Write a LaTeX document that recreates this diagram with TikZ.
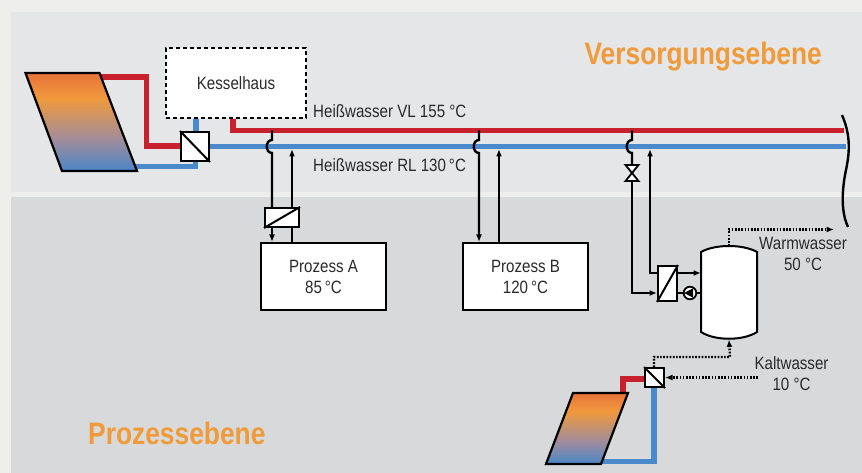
\documentclass[tikz,border=0pt]{standalone}
\usepackage{fontspec}
\setmainfont{Liberation Sans}[FakeStretch=0.85]
\usetikzlibrary{arrows.meta}
\definecolor{outerbg}{HTML}{EEEEEC}
\definecolor{topbg}{HTML}{E5E6E8}
\definecolor{botbg}{HTML}{D8D9DB}
\definecolor{pipered}{HTML}{C8202C}
\definecolor{pipeblue}{HTML}{4A89CC}
\definecolor{titleor}{HTML}{F09A3A}
\definecolor{txt}{HTML}{2A2A2A}
\definecolor{cdeep}{HTML}{E8733A}
\definecolor{corange}{HTML}{F0993C}
\definecolor{cmauve}{HTML}{A08C9C}
\definecolor{cblue}{HTML}{4A86C8}
\pgfdeclareverticalshading{collshade}{100bp}{color(0bp)=(cblue); color(25bp)=(cblue); color(41bp)=(cmauve); color(62bp)=(corange); color(75bp)=(cdeep); color(100bp)=(cdeep)}
\tikzset{
  redpipe/.style={draw=pipered, line width=5.2pt},
  bluepipe/.style={draw=pipeblue, line width=5.2pt},
  flow/.style={draw=black, line width=2.4pt},
  flowarr/.style={flow, -{Latex[length=7.5pt,width=6pt]}},
  dotflow/.style={draw=black, line width=2.4pt, dash pattern=on 1.7pt off 1.5pt},
  dotarr/.style={dotflow, -{Latex[length=7.5pt,width=6pt]}},
  box/.style={draw=black, fill=white, line width=2pt, inner sep=0pt},
  lbl/.style={text=txt, font=\fontsize{17.8}{21}\selectfont, inner sep=0pt, align=center},
  title/.style={text=titleor, font=\bfseries\fontsize{31}{36}\selectfont, inner sep=0pt},
  collector/.style={draw=black, line width=2.2pt, shading=collshade},
}
\begin{document}
\begin{tikzpicture}[x=1pt,y=-1pt]
\useasboundingbox (0,0) rectangle (862,473);
% backgrounds
\fill[outerbg] (0,0) rectangle (862,473);
\fill[topbg] (11,12) rectangle (862,192);
\fill[botbg] (11,197) rectangle (862,473);

% titles
\node[title, anchor=base east] (vers) at (822,65) {Versorgungsebene};
\node[title, anchor=base west] (proz) at (88,444) {Prozessebene};

% nodes
\node[box, dashed, dash pattern=on 4pt off 3pt, minimum width=140pt, minimum height=70pt, lbl, draw=black] (kessel) at (236,83) {Kesselhaus};
\node[box, minimum width=28pt, minimum height=29pt] (hx1) at (195,146.5) {};
\node[box, minimum width=125pt, minimum height=67pt, lbl] (pa) at (323.5,276.5) {Prozess A\\85\,°C};
\node[box, minimum width=125pt, minimum height=67pt, lbl] (pb) at (525.5,276.5) {Prozess B\\120\,°C};
\node[box, minimum width=19pt, minimum height=19pt] (hx2) at (654.5,377.5) {};

% collector 1 and pipes
\coordinate (c1tr) at (100,77);
\coordinate (c1br) at (135,166.5);
\draw[redpipe] (c1tr) -- (146.5,77) -- (146.5,146) -- (hx1.west |- 0,146);
\draw[bluepipe] (c1br) -- (195.5,166.5) -- (hx1.south -| 195.5,0);
\draw[bluepipe] (kessel.south -| 196,0) -- (hx1.north -| 196,0);
\shade[collector] (25.5,73) -- (99.5,73) -- (137,171) -- (62,171) -- cycle;

% main lines
\coordinate (redend) at (844,130.5);
\coordinate (blueend) at (846,146.5);
\draw[redpipe] (kessel.south -| 233,0) -- (233,130.5) -- (redend);
\draw[bluepipe] (hx1.east) -- (blueend);
\draw[line width=2.4pt] (842,115) .. controls (853,140) and (848,160) .. (845,175) .. controls (842,192) and (841,212) .. (848,227);

% labels on main lines
\node[lbl, anchor=base west] (vl) at (313,117.5) {Heißwasser VL 155 °C};
\node[lbl, anchor=base west] (rl) at (313,172) {Heißwasser RL 130\,°C};

% branch A
\node[box, minimum width=34pt, minimum height=19pt] (hxa) at (282,217.5) {};
\draw[flow] (272,130.5) -- (272,140) .. controls (265,140) and (265,153) .. (272,153) -- (hxa.north -| 272,0);
\draw[line width=2pt] (hxa.south west) -- (hxa.north east);
\draw[flowarr] (hxa.south -| 272,0) -- (pa.north -| 272,0);
\draw[flow] (pa.north -| 292,0) -- (hxa.south -| 292,0);
\draw[flowarr] (hxa.north -| 292,0) -- (292,149);

% branch B
\draw[flowarr] (479,130.5) -- (479,140) .. controls (472,140) and (472,153) .. (479,153) -- (pb.north -| 479,0);
\draw[flowarr] (pb.north -| 499,0) -- (499,149);

% branch C
\node[box, minimum width=19pt, minimum height=35pt] (hxc) at (667.5,283.5) {};
\draw[line width=2pt] (hxc.south west) -- (hxc.north east);
\coordinate (vtop) at (632,165);
\coordinate (vbot) at (632,181);
\draw[flow] (632,130.5) -- (632,140) .. controls (625,140) and (625,153) .. (632,153) -- (vtop);
\draw[flowarr] (vbot) -- (632,293) -- (hxc.west |- 0,293);
\draw[flow, fill=white, line width=1.8pt, line join=miter] (625.5,165) -- (638.5,165) -- (632,173) -- cycle;
\draw[flow, fill=white, line width=1.8pt, line join=miter] (632,173) -- (625.5,181) -- (638.5,181) -- cycle;
\draw[flowarr] (hxc.west |- 0,273) -- (650,273) -- (650,149);

% tank
\draw[line width=2pt, fill=white] (701,252) .. controls (715,244) and (743,244) .. (757,252) -- (757,332) .. controls (743,341) and (715,341) .. (701,332) -- cycle;
\coordinate (tankL1) at (701,273);
\coordinate (tankL2) at (701,293);
\coordinate (tanktop) at (729,246);
\coordinate (tankbot) at (729,339.5);
\draw[flowarr] (hxc.east |- 0,273) -- (tankL1);
\node[circle, draw=black, fill=white, line width=1.8pt, minimum size=12.6pt, inner sep=0pt] (pump) at (690,293) {};
\draw[flow] (hxc.east |- 0,293) -- (pump.west);
\draw[flow] (pump.east) -- (tankL2);
\fill[black] (684.2,293) -- (693,288.3) -- (693,297.7) -- cycle;

% warm water
\coordinate (wwend) at (834,229.5);
\draw[dotarr] (tanktop) -- (729,229.5) -- (wwend);
\node[lbl] (ww) at (803,254) {Warmwasser\\50 °C};

% cold water
\coordinate (kwstart) at (758,377.5);
\draw[dotarr] (kwstart) -- (hx2.east);
\draw[dotarr] (hx2.north -| 654,0) -- (654,357) -- (730,357) -- (tankbot);
\node[lbl] (kw) at (791.5,374) {Kaltwasser\\10 °C};

% collector 2 and pipes
\draw[redpipe] (hx2.west |- 0,379) -- (623,379) -- (623,395);
\draw[bluepipe] (hx2.south -| 654,0) -- (654,461.5) -- (600,461.5);
\shade[collector] (573,393) -- (628,393) -- (601,464) -- (546,464) -- cycle;
\node[box, minimum width=19pt, minimum height=19pt] (hx2b) at (654.5,377.5) {};
\draw[line width=2pt] (hx2b.north west) -- (hx2b.south east);

% redraw hx1 on top
\node[box, minimum width=28pt, minimum height=29pt] (hx1b) at (195,146.5) {};
\draw[line width=2pt] (hx1b.north west) -- (hx1b.south east);
\end{tikzpicture}
\end{document}
